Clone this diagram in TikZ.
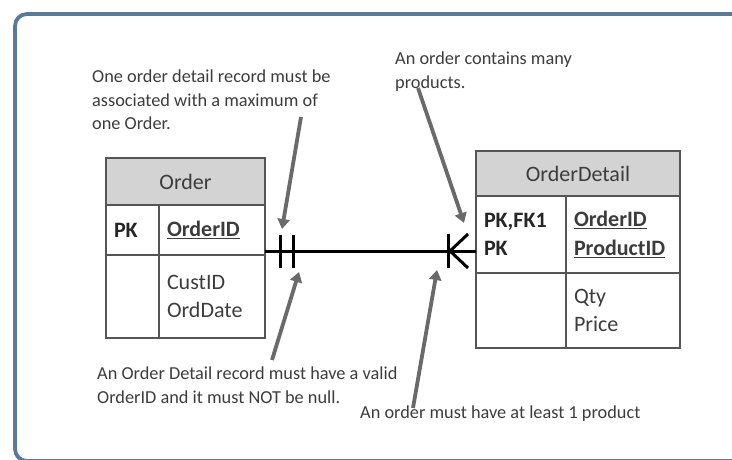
\documentclass[tikz,border=0pt]{standalone}
\usepackage{fontspec}
\setmainfont{Carlito}
\usetikzlibrary{arrows.meta}
\definecolor{framecol}{HTML}{5B7A99}
\definecolor{hdrfill}{HTML}{D3D3D3}
\definecolor{cellline}{HTML}{555555}
\definecolor{txtcol}{HTML}{3C3C3C}
\definecolor{ptrgray}{HTML}{6A6A6A}
\begin{document}
\begin{tikzpicture}[x=1pt,y=-1pt,
  cell/.style={draw=cellline,line width=1.4pt,outer sep=0pt,inner sep=8pt,align=left,
    anchor=north west,text=txtcol,font=\fontsize{22}{28.5}\selectfont},
  hdr/.style={cell,fill=hdrfill,align=center},
  key/.style={cell,text=black!85,font=\fontsize{22}{28.5}\selectfont\bfseries},
  note/.style={anchor=north west,inner sep=0pt,align=left,text=txtcol,
    font=\fontsize{18.3}{23.5}\selectfont},
  rel/.style={line width=3pt,black},
  ptr/.style={draw=ptrgray,line width=3.8pt,-{Triangle[length=10pt,width=12pt]}}]
\useasboundingbox (0,0) rectangle (732,459);
\draw[framecol,line width=3.8pt,rounded corners=12pt] (15,14) rectangle (760,461);
% Order table
\node[hdr,minimum width=159pt,minimum height=47pt] (ordhdr) at (106,158) {Order};
\node[key,text width=37pt,minimum height=50pt] (ordpk) at (ordhdr.south west) {PK};
\node[cell,text width=90pt,minimum height=50pt] (ordid) at (ordpk.north east) {\textbf{\underline{OrderID}}};
\node[cell,text width=37pt,minimum height=83pt] (ordblank) at (ordpk.south west) {};
\node[cell,text width=90pt,minimum height=83pt] (ordattr) at (ordid.south west) {CustID\\OrdDate};
% OrderDetail table
\node[hdr,minimum width=204pt,minimum height=45pt] (odhdr) at (476,151) {OrderDetail};
\node[key,text width=74pt,minimum height=77pt] (odpk) at (odhdr.south west) {PK,FK1\\PK};
\node[cell,text width=98pt,minimum height=77pt] (odid) at (odpk.north east) {\textbf{\underline{OrderID}}\\\textbf{\underline{ProductID}}};
\node[cell,text width=74pt,minimum height=75pt] (odblank) at (odpk.south west) {};
\node[cell,text width=98pt,minimum height=75pt] (odattr) at (odid.south west) {Qty\\Price};
% relationship
\coordinate (relL) at (265,251);
\coordinate (relR) at (476,251);
\draw[rel] (relL) -- (relR);
\draw[rel] (relL) ++(15,-16) -- ++(0,33);
\draw[rel] (relL) ++(28,-16) -- ++(0,33);
\draw[rel] (relR) ++(-28,-17) -- ++(0,34);
\draw[rel] (relR) ++(-8,-17) -- ++(-18,17) -- ++(18,17);
% notes
\node[note] (noteone) at (92,70) {One order detail record must be\\associated with a maximum of\\one Order.};
\node[note] (notemany) at (395,52) {An order contains many\\products.};
\node[note] (notevalid) at (97,367) {An Order Detail record must have a valid\\OrderID and it must NOT be null.};
\node[note] (noteleast) at (360,406) {An order must have at least 1 product};
% pointers
\coordinate (p1a) at (301,117); \coordinate (p1b) at (282,229);
\coordinate (p2a) at (418,88);  \coordinate (p2b) at (464,223);
\coordinate (p3a) at (272,360); \coordinate (p3b) at (299,272);
\coordinate (p4a) at (413,408); \coordinate (p4b) at (437,270);
\draw[ptr] (p1a) -- (p1b);
\draw[ptr] (p2a) -- (p2b);
\draw[ptr] (p3a) -- (p3b);
\draw[ptr] (p4a) -- (p4b);
\end{tikzpicture}
\end{document}
